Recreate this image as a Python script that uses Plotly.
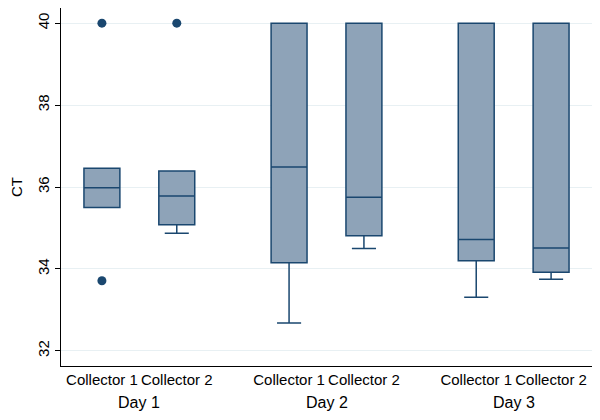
import plotly.graph_objects as go

days = ["Day 1", "Day 2", "Day 3"]
collectors = ["Collector 1", "Collector 2", "Collector 1", "Collector 2", "Collector 1", "Collector 2"]
q1 = [35.50, 35.08, 34.15, 34.81, 34.20, 33.92]
median = [35.98, 35.78, 36.49, 35.75, 34.72, 34.51]
q3 = [36.46, 36.39, 40.0, 40.0, 40.0, 40.0]
lowerfence = [35.50, 34.87, 32.68, 34.50, 33.31, 33.75]
upperfence = [36.46, 36.39, 40.0, 40.0, 40.0, 40.0]
outlier_box = [0, 1, 0]
outlier_y = [40.0, 40.0, 33.71]

# layout positions: groups spaced 5 units apart, boxes at +-1 of group center
group_centers = [0, 5, 10]
positions = [g + o for g in group_centers for o in (-1, 1)]

navy = "#1a476f"
fill = "#8ea3b8"

fig = go.Figure()
fig.add_trace(go.Box(
    x=positions, q1=q1, median=median, q3=q3,
    lowerfence=lowerfence, upperfence=upperfence,
    width=0.96, whiskerwidth=0.67,
    fillcolor=fill, line=dict(color=navy, width=1.5),
    boxpoints=False, showlegend=False, hoverinfo="skip",
))
fig.add_trace(go.Scatter(
    x=[positions[i] for i in outlier_box], y=outlier_y, mode="markers",
    marker=dict(color=navy, size=9), showlegend=False, hoverinfo="skip",
))

for g, d in zip(group_centers, days):
    fig.add_annotation(x=g, y=-0.103, xref="x", yref="paper", text=d,
                       showarrow=False, yanchor="middle",
                       font=dict(size=16, color="black"))

fig.update_layout(
    width=592, height=412,
    margin=dict(l=53, r=8, t=0, b=54),
    paper_bgcolor="white", plot_bgcolor="white",
    font=dict(family="Liberation Sans, Arial, sans-serif", color="black"),
    xaxis=dict(range=[-2.093, 12.093], tickvals=positions, ticktext=collectors,
               showgrid=False, zeroline=False, showline=True, linecolor="black",
               linewidth=1, ticks="", tickfont=dict(size=15), automargin=False),
    yaxis=dict(range=[31.63, 40.37], tickvals=[32, 34, 36, 38, 40],
               showgrid=True, gridcolor="#e8f0f3", gridwidth=1, zeroline=False,
               showline=True, linecolor="black", linewidth=1,
               ticks="outside", ticklen=5, tickcolor="black",
               tickangle=-90, tickfont=dict(size=15), automargin=False,
               title=dict(text="CT", font=dict(size=15), standoff=12)),
)

fig.write_html("out.html")
